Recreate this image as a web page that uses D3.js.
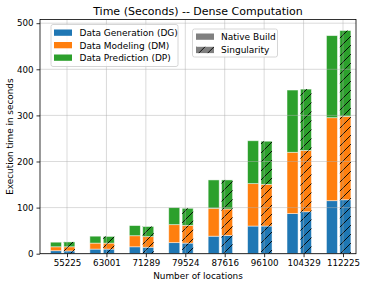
<!DOCTYPE html>
<html>
<head>
<meta charset="utf-8">
<script src="https://cdn.jsdelivr.net/npm/d3@7"></script>
<style>
  body { margin: 0; background: #fff; }
  text { font-family: "DejaVu Sans", sans-serif; }
</style>
</head>
<body>
<script>
const locations = ["55225", "63001", "71289", "79524", "87616", "96100", "104329", "112225"];
const phases = ["Data Generation (DG)", "Data Modeling (DM)", "Data Prediction (DP)"];
const phaseColors = ["#1f77b4", "#ff7f0e", "#2ca02c"];
const builds = ["Native Build", "Singularity"];

// seconds per phase, one row per location
const nativeDG = [6.5, 10, 15, 24, 38, 60, 87, 115];
const nativeDM = [8.5, 13, 24, 39, 60.5, 92, 133, 180];
const nativeDP = [10, 15, 22, 37, 61.5, 93, 135, 178];
const singDG = [6, 10, 14, 23, 39.5, 60, 91, 117];
const singDM = [9, 13, 23, 38.5, 57.5, 90.5, 133, 181];
const singDP = [10.5, 14.5, 22, 37, 63, 93.5, 133, 186];

const yTicks = [0, 100, 200, 300, 400, 500];

const width = 366, height = 287;
const margin = { top: 19.5, right: 10, bottom: 33.3, left: 40 };

const svg = d3.select("body").append("svg")
  .attr("width", width).attr("height", height);

const defs = svg.append("defs");
const hatch = defs.append("pattern")
  .attr("id", "hatch")
  .attr("patternUnits", "userSpaceOnUse")
  .attr("width", 9).attr("height", 9);
hatch.append("path")
  .attr("d", "M-2,2 L2,-2 M0,9 L9,0 M7,11 L11,7")
  .attr("stroke", "#000").attr("stroke-width", 0.9);

// x in "group units": tick i at 67 + i * 39.43
const x = d3.scaleLinear().domain([0, 7]).range([67, 343]);
const y = d3.scaleLinear().domain([0, 508]).range([height - margin.bottom, margin.top]);

const barW = 0.28;
const series = [
  { name: builds[0], off: -0.42, vals: [nativeDG, nativeDM, nativeDP], hatch: false },
  { name: builds[1], off: -0.08, vals: [singDG, singDM, singDP], hatch: true }
];

const bars = svg.append("g");
series.forEach(s => {
  locations.forEach((loc, i) => {
    let base = 0;
    s.vals.forEach((arr, k) => {
      const v = arr[i];
      const x0 = x(i + s.off), x1 = x(i + s.off + barW);
      const yTop = y(base + v), yBot = y(base);
      bars.append("rect")
        .attr("x", x0).attr("y", yTop)
        .attr("width", x1 - x0).attr("height", yBot - yTop)
        .attr("fill", phaseColors[k])
        .attr("stroke", "#fff").attr("stroke-width", 0.8).attr("stroke-opacity", 0.6);
      if (s.hatch) {
        bars.append("rect")
          .attr("x", x0).attr("y", yTop)
          .attr("width", x1 - x0).attr("height", yBot - yTop)
          .attr("fill", "url(#hatch)");
      }
      base += v;
    });
  });
});

// grid on top of bars
const grid = svg.append("g")
  .attr("stroke", "#b0b0b0").attr("stroke-opacity", 0.6).attr("stroke-width", 0.8);
yTicks.forEach(t => {
  grid.append("line")
    .attr("x1", margin.left).attr("x2", width - margin.right)
    .attr("y1", y(t)).attr("y2", y(t));
});
locations.forEach((l, i) => {
  grid.append("line")
    .attr("x1", x(i)).attr("x2", x(i))
    .attr("y1", margin.top).attr("y2", height - margin.bottom);
});

// axes
const xAxis = d3.axisBottom(x).tickValues(d3.range(locations.length))
  .tickFormat(i => locations[i]).tickSize(3.5).tickPadding(3);
const yAxis = d3.axisLeft(y).tickValues(yTicks).tickSize(3.5).tickPadding(3);

const gx = svg.append("g")
  .attr("transform", `translate(0,${height - margin.bottom})`)
  .call(xAxis);
const gy = svg.append("g")
  .attr("transform", `translate(${margin.left},0)`)
  .call(yAxis);
[gx, gy].forEach(g => {
  g.select(".domain").remove();
  g.selectAll("text").attr("font-size", 8.7).attr("fill", "#000")
    .style("font-family", "DejaVu Sans");
  g.selectAll("line").attr("stroke", "#000").attr("stroke-width", 0.8);
});

svg.append("rect")
  .attr("x", margin.left).attr("y", margin.top)
  .attr("width", width - margin.right - margin.left)
  .attr("height", height - margin.bottom - margin.top)
  .attr("fill", "none").attr("stroke", "#000").attr("stroke-width", 0.8);

// titles
svg.append("text")
  .attr("x", (margin.left + width - margin.right) / 2).attr("y", 14.5)
  .attr("text-anchor", "middle").attr("font-size", 11)
  .text("Time (Seconds) -- Dense Computation");
svg.append("text")
  .attr("x", (margin.left + width - margin.right) / 2).attr("y", 279)
  .attr("text-anchor", "middle").attr("font-size", 8.9)
  .text("Number of locations");
svg.append("text")
  .attr("transform", `translate(13,${(margin.top + height - margin.bottom) / 2}) rotate(-90)`)
  .attr("text-anchor", "middle").attr("font-size", 8.9)
  .text("Execution time in seconds");

// legend: phases
const leg1 = svg.append("g").attr("transform", "translate(51,24.5)");
leg1.append("rect")
  .attr("width", 127).attr("height", 42).attr("rx", 2)
  .attr("fill", "#fff").attr("fill-opacity", 0.8)
  .attr("stroke", "#ccc").attr("stroke-width", 0.8);
phases.forEach((p, k) => {
  const row = leg1.append("g").attr("transform", `translate(3,${5 + k * 12.5})`);
  row.append("rect").attr("width", 18).attr("height", 6.3).attr("fill", phaseColors[k]);
  row.append("text").attr("x", 25.5).attr("y", 6.5).attr("font-size", 9).text(p);
});

// legend: build type
const leg2 = svg.append("g").attr("transform", "translate(192.5,29)");
leg2.append("rect")
  .attr("width", 85).attr("height", 28).attr("rx", 2)
  .attr("fill", "#fff").attr("fill-opacity", 0.8)
  .attr("stroke", "#ccc").attr("stroke-width", 0.8);
builds.forEach((b, k) => {
  const row = leg2.append("g").attr("transform", `translate(3.5,${4.5 + k * 13.3})`);
  row.append("rect").attr("width", 18).attr("height", 6.3).attr("fill", "#808080");
  if (k === 1) {
    row.append("rect").attr("width", 18).attr("height", 6.3).attr("fill", "url(#hatch)");
  }
  row.append("text").attr("x", 25).attr("y", 6.5).attr("font-size", 9).text(b);
});
</script>
</body>
</html>
